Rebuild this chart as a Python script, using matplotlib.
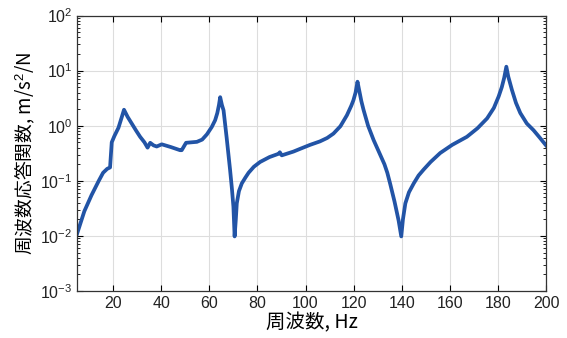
import numpy as np
import matplotlib
matplotlib.use('Agg')
import matplotlib.pyplot as plt
from matplotlib.ticker import LogLocator, NullFormatter

# frequency (Hz) and FRF magnitude
freq = [5, 8, 11, 14, 15.8, 17.5, 18.7, 19.4, 20.5, 22.2, 23.5, 24.5, 26, 27.7, 29.5, 31.2,
        33, 34.3, 35.4, 36.8, 38.1, 40.2, 44, 47.8, 48.5, 50.3, 54.8, 57, 59, 61, 62.4,
        63.3, 64, 64.5, 65.2, 65.9, 67.2, 68.6, 69.4, 70, 70.5, 71, 71.4, 72.3, 73.5, 75,
        76.3, 78.5, 81.1, 85, 88.8, 89.3, 90.1, 95, 97.7, 101.9, 106, 109, 111.6, 114.5,
        117.2, 119, 119.9, 120.8, 121.6, 122.4, 123.2, 124.1, 126, 128.3, 131, 132.8, 134, 135.2, 137,
        138.7, 139.8, 140.5, 141.5, 143, 145, 147, 149.1, 152, 156, 161, 167.1, 171.5,
        175.5, 178.3, 180.3, 181.6, 182.6, 183.5, 184.3, 185.8, 187.5, 189.3, 192, 194.8, 197.5, 200]
frf = [0.011, 0.028, 0.055, 0.1, 0.14, 0.165, 0.175, 0.5, 0.65, 0.92, 1.4, 1.95, 1.45, 1.1,
       0.82, 0.63, 0.5, 0.4, 0.49, 0.44, 0.42, 0.46, 0.41, 0.36, 0.36, 0.49, 0.51, 0.56,
       0.7, 0.95, 1.26, 1.7, 2.4, 3.3, 2.4, 1.9, 0.6, 0.16, 0.07, 0.034, 0.0098, 0.02, 0.039,
       0.065, 0.09, 0.115, 0.14, 0.18, 0.22, 0.27, 0.31, 0.33, 0.29, 0.34, 0.38, 0.45,
       0.52, 0.6, 0.72, 0.98, 1.55, 2.3, 2.9, 4.0, 6.3, 4.2, 2.8, 1.95, 1.0, 0.55, 0.3, 0.2,
       0.14, 0.088, 0.042, 0.019, 0.0098, 0.02, 0.039, 0.062, 0.09, 0.125, 0.16, 0.22, 0.32,
       0.45, 0.63, 0.9, 1.36, 2.1, 3.4, 5.0, 7.4, 11.8, 7.8, 4.5, 2.6, 1.7, 1.1, 0.83, 0.6, 0.44]
xticks = [20, 40, 60, 80, 100, 120, 140, 160, 180, 200]

plt.rcParams['font.family'] = ['Liberation Sans', 'Noto Sans CJK JP', 'DejaVu Sans']
plt.rcParams['mathtext.fontset'] = 'custom'
plt.rcParams['mathtext.rm'] = 'Liberation Sans'
plt.rcParams['mathtext.it'] = 'Liberation Sans'

fig = plt.figure(figsize=(5.67, 3.38), dpi=100)
ax = fig.add_axes([0.136, 0.139, 0.827, 0.815])

ax.semilogy(freq, frf, color='#2254a6', lw=2.7, solid_joinstyle='round')

ax.set_xlim(5, 200)
ax.set_ylim(1e-3, 1e2)
ax.set_xticks(xticks)
ax.yaxis.set_major_locator(LogLocator(base=10, numticks=10))
ax.yaxis.set_minor_locator(LogLocator(base=10, subs=np.arange(2, 10), numticks=10))
ax.yaxis.set_minor_formatter(NullFormatter())

ax.grid(True, which='major', color='#dddddd', lw=0.8)
ax.tick_params(which='both', direction='in', top=True, right=True, labelsize=11.5,
               labelcolor='#222222')
ax.tick_params(which='major', length=4)
ax.tick_params(which='minor', length=2)
for s in ax.spines.values():
    s.set_linewidth(0.9)
    s.set_color('#333333')

ax.set_xlabel('周波数, Hz', fontsize=14, family=['Noto Sans CJK JP', 'DejaVu Sans'], labelpad=1)
ax.set_ylabel('周波数応答関数, m/s$^2$/N', fontsize=13.5,
              family=['Noto Sans CJK JP', 'DejaVu Sans'], labelpad=2)

fig.savefig('out.png', dpi=100)
